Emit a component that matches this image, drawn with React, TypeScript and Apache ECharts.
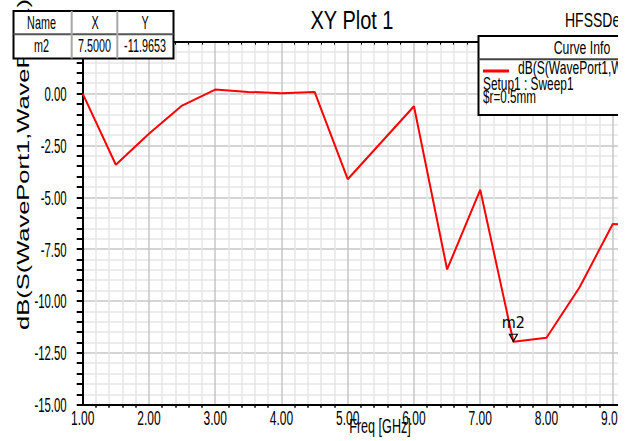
import React, { useEffect, useRef } from 'react';
import * as echarts from 'echarts';

// ---- data ----
const freqGHz = [1.0, 1.5, 2.0, 2.5, 3.0, 3.5, 4.0, 4.5, 5.0, 5.5, 6.0, 6.5, 7.0, 7.5, 8.0, 8.5, 9.0, 9.5];
const dbS11 = [0.0, -3.43, -1.94, -0.58, 0.19, 0.08, 0.02, 0.08, -4.13, -2.37, -0.61, -8.48, -4.64, -11.9653, -11.77, -9.34, -6.29, -6.32];
const xTickLabels = ['1.00', '2.00', '3.00', '4.00', '5.00', '6.00', '7.00', '8.00', '9.00'];
const yTickLabels = ['0.00', '-2.50', '-5.00', '-7.50', '-10.00', '-12.50', '-15.00'];
const markerName = 'm2';
const markerX = 7.5;
const markerY = -11.9653;
const tableHeaders = ['Name', 'X', 'Y'];
const tableRow = ['m2', '7.5000', '-11.9653'];
const curveName = 'dB(S(WavePort1,WavePort1))';
const curveInfoLines = ['Setup1 : Sweep1', '$r=0.5mm'];
const plotTitle = 'XY Plot 1';
const designName = 'HFSSDesign1';
const xAxisTitle = 'Freq [GHz]';
const xRange = [1, 10];
const yRange = [-15, 2.5];

const SANS = 'Liberation Sans, Arial, sans-serif';
const NARROW = "'Liberation Sans Narrow', 'Arial Narrow', 'DejaVu Sans Condensed', sans-serif";

function txt(text: string, x: number, y: number, size: number, sx: number, align: string, extra: any = {}) {
  return {
    type: 'text',
    x,
    y,
    scaleX: sx,
    z: 100,
    ...extra,
    style: {
      text,
      fontSize: size,
      fontFamily: SANS,
      fill: '#000',
      align,
      textAlign: align,
      verticalAlign: 'middle',
      textVerticalAlign: 'middle',
    },
  };
}

export default function App() {
  const ref = useRef<HTMLDivElement>(null);
  useEffect(() => {
    if (!ref.current) return;
    const chart = echarts.init(ref.current, undefined, { renderer: 'svg' });
    const major = { color: '#c6c6c6', width: 1.5 };
    const minor = { color: '#e6e6e6', width: 1.5 };
    const option: any = {
      animation: false,
      backgroundColor: '#fff',
      grid: { left: 82.7, top: 41.7, width: 596.3, height: 363 },
      xAxis: [
        {
          type: 'value',
          min: xRange[0],
          max: xRange[1],
          interval: 1,
          axisLine: { show: true, onZero: false, lineStyle: { color: '#000', width: 2 } },
          axisTick: { show: false },
          minorTick: { show: true, splitNumber: 5, length: 3, lineStyle: { color: '#000', width: 1.5 } },
          splitLine: { show: true, lineStyle: major },
          minorSplitLine: { show: true, lineStyle: minor },
          axisLabel: { show: false },
        },
        {
          type: 'value',
          position: 'top',
          min: xRange[0],
          max: xRange[1],
          interval: 1,
          axisLine: { show: true, onZero: false, lineStyle: { color: '#000', width: 2 } },
          axisTick: { show: false, inside: true },
          minorTick: { show: true, splitNumber: 5, length: 3, lineStyle: { color: '#000', width: 1 } },
          splitLine: { show: false },
          axisLabel: { show: false },
        },
      ],
      yAxis: {
        type: 'value',
        min: yRange[0],
        max: yRange[1],
        interval: 2.5,
        axisLine: { show: true, onZero: false, lineStyle: { color: '#000', width: 2 } },
        axisTick: { show: true, length: 6, lineStyle: { color: '#000', width: 2 } },
        minorTick: { show: true, splitNumber: 5, length: 6, lineStyle: { color: '#000', width: 2 } },
        splitLine: { show: true, lineStyle: major },
        minorSplitLine: { show: true, lineStyle: minor },
        axisLabel: { show: false },
      },
      series: [
        {
          name: curveName,
          type: 'line',
          xAxisIndex: 0,
          data: freqGHz.map((f, i) => [f, dbS11[i]]),
          symbol: 'none',
          lineStyle: { color: '#ff0000', width: 2 },
          markPoint: {
            symbol: 'triangle',
            symbolRotate: 180,
            symbolSize: [8, 7],
            symbolOffset: [0, -4],
            itemStyle: { color: 'rgba(255,255,255,0)', borderColor: '#000', borderWidth: 1.2 },
            label: {
              show: true,
              position: 'top',
              distance: 3,
              formatter: markerName,
              color: '#000',
              fontFamily: NARROW,
              fontSize: 16,
            },
            data: [{ coord: [markerX, markerY] }],
          },
        },
      ],
    };
    chart.setOption(option);

    // tick labels placed through the axes' own scales
    const tickTexts: any[] = [];
    xTickLabels.forEach((lab) => {
      const p = chart.convertToPixel({ gridIndex: 0 }, [Number(lab), yRange[0]]) as number[];
      tickTexts.push(txt(lab, p[0], p[1] + 13, 20, 0.6, 'center', { z: 50 }));
    });
    yTickLabels.forEach((lab) => {
      const p = chart.convertToPixel({ gridIndex: 0 }, [xRange[0], Number(lab)]) as number[];
      tickTexts.push(txt(lab, p[0] - 16, p[1], 20, 0.57, 'right', { z: 50 }));
    });

    chart.setOption({
      graphic: [
        ...tickTexts,
        // title texts
        txt(plotTitle, 352, 21, 25, 0.8, 'center'),
        txt(designName, 565, 20, 20, 0.7, 'left'),
        txt(xAxisTitle, 380, 426, 20, 0.63, 'center'),
        // y-axis title (rotated)
        {
          type: 'text',
          x: 23,
          y: 330,
          rotation: Math.PI / 2,
          scaleX: 1.5,
          z: 90,
          style: {
            text: curveName,
            fontSize: 17,
            fontFamily: SANS,
            fill: '#000',
            align: 'left',
            textAlign: 'left',
            verticalAlign: 'middle',
            textVerticalAlign: 'middle',
          },
        },
        // marker table
        {
          type: 'rect',
          z: 99,
          shape: { x: 13.5, y: 11, width: 160, height: 47.5 },
          style: { fill: '#fff', stroke: '#000', lineWidth: 2 },
        },
        { type: 'line', z: 100, shape: { x1: 13.5, y1: 34.3, x2: 173.5, y2: 34.3 }, style: { stroke: '#555', lineWidth: 2 } },
        { type: 'line', z: 100, shape: { x1: 71.7, y1: 11, x2: 71.7, y2: 58.5 }, style: { stroke: '#a8a8a8', lineWidth: 2 } },
        { type: 'line', z: 100, shape: { x1: 117.3, y1: 11, x2: 117.3, y2: 58.5 }, style: { stroke: '#a8a8a8', lineWidth: 2 } },
        txt(tableHeaders[0], 41.5, 22.5, 18, 0.6, 'center'),
        txt(tableHeaders[1], 95, 22.5, 18, 0.6, 'center'),
        txt(tableHeaders[2], 145, 22.5, 18, 0.6, 'center'),
        txt(tableRow[0], 41.5, 45.5, 18, 0.6, 'center'),
        txt(tableRow[1], 94.5, 45.5, 18, 0.6, 'center'),
        txt(tableRow[2], 145, 45.5, 18, 0.6, 'center'),
        // curve info box
        {
          type: 'rect',
          z: 99,
          shape: { x: 478.5, y: 36, width: 200, height: 79 },
          style: { fill: '#fff', stroke: '#000', lineWidth: 2 },
        },
        { type: 'line', z: 100, shape: { x1: 478.5, y1: 59.3, x2: 678.5, y2: 59.3 }, style: { stroke: '#444', lineWidth: 2 } },
        txt('Curve Info', 582, 47.5, 18, 0.68, 'center'),
        { type: 'line', z: 100, shape: { x1: 483, y1: 71, x2: 509, y2: 71 }, style: { stroke: '#ff0000', lineWidth: 3 } },
        txt(curveName, 518, 68, 18, 0.67, 'left'),
        txt(curveInfoLines[0], 483, 83.5, 18, 0.66, 'left'),
        txt(curveInfoLines[1], 483, 96.5, 18, 0.65, 'left'),
      ],
    });
    return () => chart.dispose();
  }, []);
  return (
    <div style={{ position: 'fixed', left: 0, top: 0, width: 618, height: 441, overflow: 'hidden', background: '#fff' }}>
      <div ref={ref} style={{ width: 700, height: 441 }} />
    </div>
  );
}
